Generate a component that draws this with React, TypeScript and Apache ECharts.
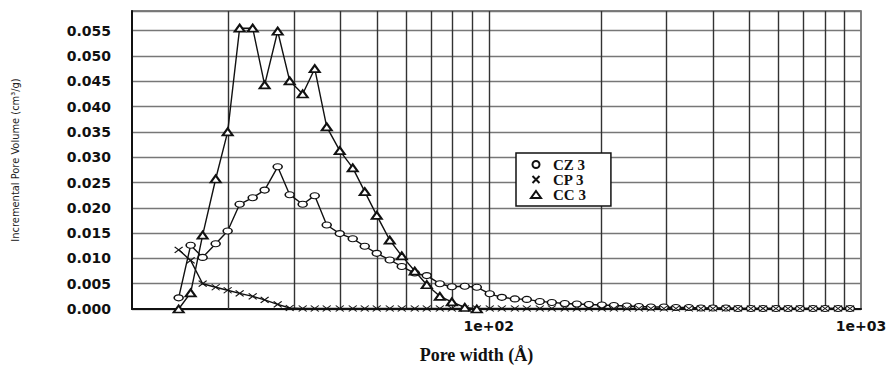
import React, { useEffect, useRef } from "react";
import * as echarts from "echarts";

// Pore widths (Å) of the measured points
const X_VALUES = [
  14.68, 15.81, 17.03, 18.46, 19.88, 21.41, 23.21, 24.99, 27.09, 29.18,
  31.62, 34.07, 36.69, 39.77, 43.1, 46.42, 50.0, 54.19, 58.37, 63.25,
  68.13, 73.87, 79.56, 86.2, 92.85, 100.6, 108.4, 117.5, 126.5, 137.1,
  147.7, 160.0, 172.4, 185.7, 201.3, 216.8, 234.9, 253.1, 272.6, 295.4,
  318.3, 344.8, 371.5, 400.1, 433.6, 467.0, 506.1, 545.4, 590.9, 636.6,
  685.5, 743.0, 800.5, 867.6, 934.1,
];

// Incremental pore volume (cm³/g)
const CZ3 = [
  0.0022, 0.0126, 0.0102, 0.0129, 0.0154, 0.0207, 0.022, 0.0235, 0.0281, 0.0226,
  0.0207, 0.0224, 0.0166, 0.0149, 0.0139, 0.0124, 0.011, 0.0097, 0.0084, 0.0071,
  0.0066, 0.005, 0.0044, 0.0045, 0.0043, 0.003, 0.0023, 0.002, 0.0019, 0.0015,
  0.0013, 0.0011, 0.001, 0.0009, 0.0008, 0.0007, 0.0006, 0.0005, 0.0004, 0.0004,
  0.0003, 0.0003, 0.0002, 0.0002, 0.0002, 0.0001, 0.0001, 0.0001, 0.0001, 0.0001,
  0.0001, 0.0001, 0.0001, 0.0001, 0.0001,
];

const CP3 = [
  0.0117, 0.0096, 0.005, 0.0043, 0.0037, 0.0031, 0.0025, 0.0018, 0.0009, 0.0002,
  0.0001, 0.0001, 0.0001, 0.0001, 0.0001, 0.0001, 0.0001, 0.0001, 0.0001, 0.0001,
  0.0001, 0.0001, 0.0001, 0.0001, 0.0001, 0.0001, 0.0001, 0.0001, 0.0001, 0.0001,
  0.0001, 0.0001, 0.0001, 0.0001, 0.0001, 0.0001, 0.0001, 0.0001, 0.0001, 0.0001,
  0.0001, 0.0001, 0.0001, 0.0001, 0.0001, 0.0001, 0.0001, 0.0001, 0.0001, 0.0001,
  0.0001, 0.0001, 0.0001, 0.0001, 0.0001,
];

const CC3 = [
  0.0, 0.0032, 0.0146, 0.0257, 0.035, 0.0555, 0.0555, 0.0443, 0.0549, 0.0451,
  0.0425, 0.0475, 0.036, 0.0313, 0.0279, 0.0232, 0.0185, 0.0136, 0.0105, 0.0075,
  0.0048, 0.0025, 0.0014, 0.0003, 0.0,
];

const SERIES_NAMES = ["CZ 3", "CP 3", "CC 3"];
const GRID_X = [20, 30, 40, 50, 60, 70, 80, 90, 100, 200, 300, 400, 500, 600, 700, 800, 900];
const X_TICK_VALUES = [100, 1000];
const X_TICK_LABELS = ["1e+02", "1e+03"];

const ELLIPSE = "path://M-1,0A1,1,0,1,0,1,0A1,1,0,1,0,-1,0Z";
const CROSS = "path://M0,0L10,10M10,0L0,10";

function pairs(ys: number[]) {
  return ys.map((y, i) => [X_VALUES[i], y]);
}

export default function App() {
  const ref = useRef<HTMLDivElement>(null);
  useEffect(() => {
    if (!ref.current) return;
    const chart = echarts.init(ref.current, null, { renderer: "svg" });
    const lineStyle = { color: "#111", width: 1.4 };
    chart.setOption({
      animation: false,
      backgroundColor: "#fff",
      grid: {
        left: 132,
        right: 33,
        top: 11,
        bottom: 56,
        show: true,
        borderColor: "#555",
        borderWidth: 1.5,
      },
      legend: {
        left: 516,
        top: 153,
        orient: "vertical",
        backgroundColor: "#fff",
        borderColor: "#111",
        borderWidth: 1.5,
        borderRadius: 0,
        padding: [4, 25, 4, 14],
        itemGap: 0,
        itemWidth: 10,
        itemHeight: 7,
        textStyle: {
          fontFamily: '"Liberation Serif", serif',
          fontWeight: "bold",
          fontSize: 15,
          color: "#111",
          padding: [0, 0, 0, 7],
        },
        data: [
          { name: SERIES_NAMES[0], icon: ELLIPSE },
          { name: SERIES_NAMES[1], icon: CROSS },
          { name: SERIES_NAMES[2], icon: "emptyTriangle" },
        ],
      },
      xAxis: {
        type: "log",
        logBase: 10,
        min: 11,
        max: 1000,
        name: "Pore width (Å)",
        nameLocation: "middle",
        nameGap: 37,
        nameTextStyle: {
          fontFamily: '"Liberation Serif", serif',
          fontWeight: "bold",
          fontSize: 18,
          color: "#111",
          padding: [0, 40, 0, 0],
        },
        axisLine: { show: true, lineStyle: { color: "#111", width: 2 } },
        axisTick: { show: false },
        splitLine: { show: false },
        axisLabel: {
          showMinLabel: false,
          margin: 10,
          fontFamily: '"DejaVu Sans", sans-serif',
          fontWeight: "bold",
          fontSize: 14,
          color: "#111",
          formatter: (v: number) => {
            const i = X_TICK_VALUES.findIndex((t) => Math.abs(t - v) / t < 1e-6);
            return i >= 0 ? X_TICK_LABELS[i] : "";
          },
        },
      },
      yAxis: {
        type: "value",
        min: 0,
        max: 0.0589,
        interval: 0.005,
        name: "Incremental Pore Volume (cm³/g)",
        nameLocation: "middle",
        nameGap: 111,
        nameTextStyle: {
          fontFamily: '"Liberation Sans Narrow", "DejaVu Sans Condensed", sans-serif',
          fontSize: 11,
          color: "#222",
        },
        axisLine: { show: true, lineStyle: { color: "#111", width: 2 } },
        axisTick: { show: false },
        splitLine: { show: true, lineStyle: { color: "#777", width: 1.3 } },
        axisLabel: {
          showMaxLabel: false,
          margin: 21,
          fontFamily: '"DejaVu Sans", sans-serif',
          fontWeight: "bold",
          fontSize: 14,
          color: "#111",
          formatter: (v: number) => v.toFixed(3),
        },
      },
      series: [
        {
          name: "grid",
          type: "line",
          data: [],
          silent: true,
          markLine: {
            z: 1,
            silent: true,
            symbol: "none",
            label: { show: false },
            lineStyle: { color: "#333", width: 1.4, type: "solid" },
            data: GRID_X.map((x) => ({ xAxis: x })),
          },
        },
        {
          name: SERIES_NAMES[0],
          type: "line",
          data: pairs(CZ3),
          symbol: ELLIPSE,
          symbolSize: [9, 6],
          lineStyle,
          itemStyle: { color: "#fff", borderColor: "#111", borderWidth: 1.3 },
        },
        {
          name: SERIES_NAMES[1],
          type: "line",
          data: pairs(CP3),
          symbol: CROSS,
          symbolSize: [8, 6],
          lineStyle,
          itemStyle: { color: "#111", borderColor: "#111", borderWidth: 1.1 },
        },
        {
          name: SERIES_NAMES[2],
          type: "line",
          data: pairs(CC3),
          symbol: "emptyTriangle",
          symbolSize: [10, 7],
          lineStyle,
          itemStyle: { color: "#111", borderWidth: 1.1 },
        },
      ],
    });
    return () => chart.dispose();
  }, []);
  return (
    <div
      ref={ref}
      style={{ position: "fixed", left: 0, top: 0, width: 894, height: 369 }}
    />
  );
}
